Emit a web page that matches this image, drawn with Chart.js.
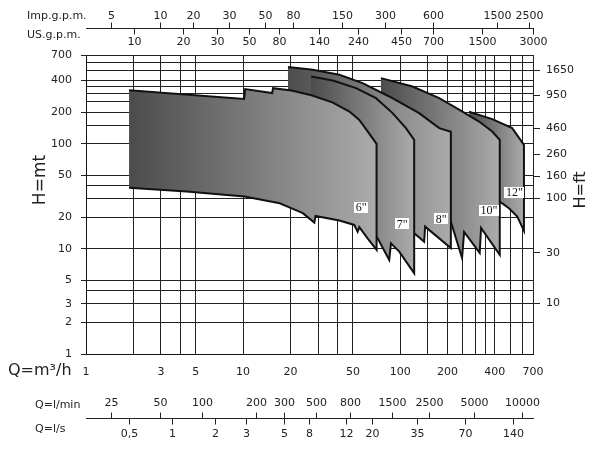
<!DOCTYPE html>
<html>
<head>
<meta charset="utf-8">
<title>Pump selection chart</title>
<script src="https://cdn.jsdelivr.net/npm/chart.js@4.4.1/dist/chart.umd.min.js"></script>
<style>
  html, body { margin: 0; padding: 0; background: #fff; }
  #wrap { position: relative; width: 597px; height: 450px; }
</style>
</head>
<body>
<div id="wrap"><canvas id="pumpChart" width="597" height="450"></canvas></div>
<script>
/* ---------- Axes: grid values and labelled values ---------- */
const GRID_Q = [1, 2, 3, 4, 5, 10, 20, 30, 40, 50, 100, 150, 200, 250, 300, 350, 400, 500, 600, 700];
const LABEL_Q = [1, 3, 5, 10, 20, 50, 100, 200, 400, 700];
const GRID_H = [1, 2, 3, 4, 5, 10, 20, 30, 40, 50, 100, 150, 200, 250, 300, 350, 400, 500, 600, 700];
const LABEL_H = [1, 2, 3, 5, 10, 20, 50, 100, 200, 400, 700];
const TICKS_FT = [10, 30, 100, 160, 260, 460, 950, 1650];
const M_TO_FT = 3.28084;

/* secondary flow scales: label + where it sits on the m3/h axis */
const IMP_LABELS = ["5", "10", "20", "30", "50", "80", "150", "300", "600", "1500", "2500"];
const IMP_AT_Q = [1.44, 2.96, 4.83, 8.09, 13.85, 20.7, 42.6, 80, 162, 413, 660];
const US_LABELS = ["10", "20", "30", "50", "80", "140", "240", "450", "700", "1500", "3000"];
const US_AT_Q = [2.02, 4.13, 6.82, 10.9, 16.8, 30.6, 54.1, 101.7, 162, 331, 695];
const LMIN_LABELS = ["25", "50", "100", "200", "300", "500", "800", "1500", "2500", "5000", "10000"];
const LMIN_AT_Q = [1.44, 2.96, 5.47, 12.13, 18.34, 29, 48.1, 88.1, 152, 296, 593];
const LS_LABELS = ["0,5", "1", "2", "3", "5", "8", "12", "20", "35", "70", "140"];
const LS_AT_Q = [1.88, 3.53, 6.59, 10.4, 18.34, 26.4, 45.4, 65.7, 127, 260, 522];

/* ---------- Pump ranges (Q m3/h, H m), outline order ---------- */
const Q_6 = [1.88, 10.15, 10.3, 15.3, 15.5, 20.3, 27.2, 37, 47.5, 54.9, 61.7, 70.7, 70.7, 62, 54.9, 53.6, 51, 41, 28.9, 28.4, 24, 20.2, 17.1, 10.2, 4.36, 1.88];
const H_6 = [323, 267, 332, 304, 338, 322, 290, 248, 203, 169, 133, 100, 9.8, 12.6, 16.1, 14.6, 16.9, 18.6, 20.6, 17.8, 21.9, 24.4, 27.2, 31.5, 35.1, 38.1];
const Q_7 = [27.1, 37.2, 52.3, 70.1, 89.4, 108.7, 122.7, 122.7, 98.6, 87.3, 85.1, 71.8, 54.9, 41, 27.1];
const H_7 = [438, 401, 339, 272, 196, 141, 109, 5.87, 9.42, 11.3, 7.86, 12.6, 21.1, 29.3, 36.5];
const Q_8 = [19.3, 27.8, 41, 57.6, 85.1, 132, 177, 210, 210, 144, 142, 122.7, 70.4, 41, 19.3];
const H_8 = [538, 507, 454, 378, 282, 196, 141, 130, 10.2, 16.3, 11.7, 14.1, 18.9, 29.3, 45.4];
const Q_10 = [75.4, 119.7, 177, 237, 317.5, 385, 430, 430, 327, 320.6, 255, 247.5, 210, 132, 75.4];
const H_10 = [422, 351, 272, 211, 163, 131, 109, 8.77, 15.8, 9.16, 14.5, 8.2, 18.1, 22.5, 29.3];
const Q_12 = [274, 385, 516, 613, 613, 556, 492, 430, 274];
const H_12 = [202, 172, 141, 97.8, 14.9, 20.3, 24.4, 28.2, 36.5];

const SIZE_NAMES = ['6"', '7"', '8"', '10"', '12"'];
const SIZE_TAG_Q = [56.5, 103, 182, 367, 533];
const SIZE_TAG_H = [24.6, 17.3, 19.3, 23.3, 34.5];

const INK = "#222";
const FONT = "DejaVu Sans";

/* ---------- Helpers ---------- */
function toPoints(qs, hs) {
    return qs.map(function (q, i) { return { x: q, y: hs[i] }; });
}

function shapeFill(c) {
    const chart = c.chart;
    const xs = chart.scales && chart.scales.x;
    if (!chart.chartArea || !xs) return "#888";
    const qs = chart.data.datasets[c.datasetIndex].data.map(function (p) { return p.x; });
    const x0 = xs.getPixelForValue(Math.min.apply(null, qs));
    const x1 = xs.getPixelForValue(Math.max.apply(null, qs));
    if (!isFinite(x0) || !isFinite(x1) || x1 <= x0) return "#888";
    const g = chart.ctx.createLinearGradient(x0, 0, x1, 0);
    g.addColorStop(0, "#4c4c4c");
    g.addColorStop(1, "#ababab");
    return g;
}

function rangeDataset(name, qs, hs) {
    return {
        label: name,
        data: toPoints(qs, hs),
        showLine: true,
        fill: "shape",
        backgroundColor: shapeFill,
        borderColor: "#111",
        borderWidth: 2,
        borderJoinStyle: "miter",
        pointRadius: 0,
        tension: 0
    };
}

/* ---------- Extra drawing: flow scales, names, size tags ---------- */
function drawScaleRow(ctx, xs, lineY, rows) {
    const left = xs.getPixelForValue(xs.min);
    const right = xs.getPixelForValue(xs.max) + 1;
    ctx.strokeStyle = INK;
    ctx.lineWidth = 1;
    ctx.beginPath();
    ctx.moveTo(left, lineY + 0.5);
    ctx.lineTo(right, lineY + 0.5);
    ctx.stroke();
    rows.forEach(function (r) {
        r.at.forEach(function (q, i) {
            const px = Math.round(xs.getPixelForValue(q)) + 0.5;
            ctx.beginPath();
            ctx.moveTo(px, lineY + 0.5);
            ctx.lineTo(px, lineY + 0.5 + r.dir * 6);
            ctx.stroke();
            ctx.fillText(r.labels[i], px, r.textY);
        });
    });
}

function drawFlowScales(chart) {
    const ctx = chart.ctx;
    const xs = chart.scales.x;
    ctx.save();
    ctx.fillStyle = INK;
    ctx.font = "11px '" + FONT + "'";
    ctx.textAlign = "center";
    ctx.textBaseline = "middle";
    drawScaleRow(ctx, xs, 28, [
        { labels: IMP_LABELS, at: IMP_AT_Q, dir: -1, textY: 16 },
        { labels: US_LABELS, at: US_AT_Q, dir: 1, textY: 42.5 }
    ]);
    drawScaleRow(ctx, xs, 418, [
        { labels: LMIN_LABELS, at: LMIN_AT_Q, dir: -1, textY: 403.5 },
        { labels: LS_LABELS, at: LS_AT_Q, dir: 1, textY: 434 }
    ]);
    ctx.textAlign = "left";
    ctx.fillText("Imp.g.p.m.", 27, 16);
    ctx.fillText("US.g.p.m.", 27, 35);
    ctx.fillText("Q=l/min", 35, 405);
    ctx.fillText("Q=l/s", 35, 429);
    ctx.restore();
}

function drawAxisNames(chart) {
    const ctx = chart.ctx;
    ctx.save();
    ctx.fillStyle = INK;
    ctx.textBaseline = "middle";
    ctx.font = "16px '" + FONT + "'";
    ctx.textAlign = "left";
    ctx.fillText("Q=m\u00B3/h", 8, 371);
    ctx.textAlign = "center";
    ctx.translate(41, 180);
    ctx.rotate(-Math.PI / 2);
    ctx.font = "17px '" + FONT + "'";
    ctx.fillText("H=mt", 0, 0);
    ctx.restore();
    ctx.save();
    ctx.fillStyle = INK;
    ctx.textAlign = "center";
    ctx.textBaseline = "middle";
    ctx.font = "16px '" + FONT + "'";
    ctx.translate(581, 190);
    ctx.rotate(-Math.PI / 2);
    ctx.fillText("H=ft", 0, 0);
    ctx.restore();
}

function drawSizeTags(chart) {
    const ctx = chart.ctx;
    const xs = chart.scales.x, ys = chart.scales.y;
    ctx.save();
    ctx.font = "12px 'Liberation Serif'";
    ctx.textAlign = "center";
    ctx.textBaseline = "middle";
    SIZE_NAMES.forEach(function (name, i) {
        const px = xs.getPixelForValue(SIZE_TAG_Q[i]);
        const py = ys.getPixelForValue(SIZE_TAG_H[i]);
        const w = ctx.measureText(name).width + 3;
        ctx.fillStyle = "#fff";
        ctx.fillRect(Math.round(px - w / 2), Math.round(py - 5.5), Math.round(w), 11);
        ctx.fillStyle = "#111";
        ctx.fillText(name, px, py + 0.5);
    });
    ctx.restore();
}

const extrasPlugin = {
    id: "pumpExtras",
    afterDatasetsDraw: function (chart) { drawSizeTags(chart); },
    afterDraw: function (chart) { drawFlowScales(chart); drawAxisNames(chart); }
};

/* ---------- Chart ---------- */
function initPumpChart() {
    Chart.defaults.font.family = FONT;
    Chart.defaults.font.size = 11;
    Chart.defaults.color = INK;

    const el = document.getElementById("pumpChart");
    new Chart(el.getContext("2d"), {
        type: "scatter",
        data: {
            datasets: [
                rangeDataset('6"', Q_6, H_6),
                rangeDataset('7"', Q_7, H_7),
                rangeDataset('8"', Q_8, H_8),
                rangeDataset('10"', Q_10, H_10),
                rangeDataset('12"', Q_12, H_12)
            ]
        },
        options: {
            responsive: false,
            animation: false,
            layout: { padding: { top: 55, left: 0, right: 0, bottom: 0 } },
            plugins: { legend: { display: false }, tooltip: { enabled: false } },
            scales: {
                x: {
                    type: "logarithmic",
                    min: 1,
                    max: 700,
                    afterBuildTicks: function (s) { s.ticks = GRID_Q.map(function (v) { return { value: v }; }); },
                    afterFit: function (s) { s.height = 96; },
                    border: { display: true, color: "#111", width: 1 },
                    grid: { color: INK, lineWidth: 1, drawTicks: false },
                    ticks: {
                        autoSkip: false,
                        maxRotation: 0,
                        padding: 12,
                        callback: function (v) { return LABEL_Q.indexOf(v) >= 0 ? String(v) : ""; }
                    }
                },
                y: {
                    type: "logarithmic",
                    position: "left",
                    min: 1,
                    max: 700,
                    afterBuildTicks: function (s) { s.ticks = GRID_H.map(function (v) { return { value: v }; }); },
                    afterFit: function (s) { s.width = 86; },
                    border: { display: true, color: "#111", width: 1 },
                    grid: {
                        color: INK,
                        lineWidth: 1,
                        tickLength: 5,
                        tickColor: function (c) { return c.tick && LABEL_H.indexOf(c.tick.value) >= 0 ? INK : "rgba(0,0,0,0)"; }
                    },
                    ticks: {
                        autoSkip: false,
                        padding: 9,
                        callback: function (v) { return LABEL_H.indexOf(v) >= 0 ? String(v) : ""; }
                    }
                },
                yFt: {
                    type: "logarithmic",
                    position: "right",
                    min: 1 * M_TO_FT,
                    max: 700 * M_TO_FT,
                    afterBuildTicks: function (s) { s.ticks = TICKS_FT.map(function (v) { return { value: v }; }); },
                    afterFit: function (s) { s.width = 64; },
                    border: { display: false },
                    grid: { drawOnChartArea: false, color: INK, tickLength: 7 },
                    ticks: {
                        autoSkip: false,
                        padding: 6,
                        callback: function (v) { return String(v); }
                    }
                }
            }
        },
        plugins: [extrasPlugin]
    });
}

document.addEventListener("DOMContentLoaded", initPumpChart);
</script>
</body>
</html>
